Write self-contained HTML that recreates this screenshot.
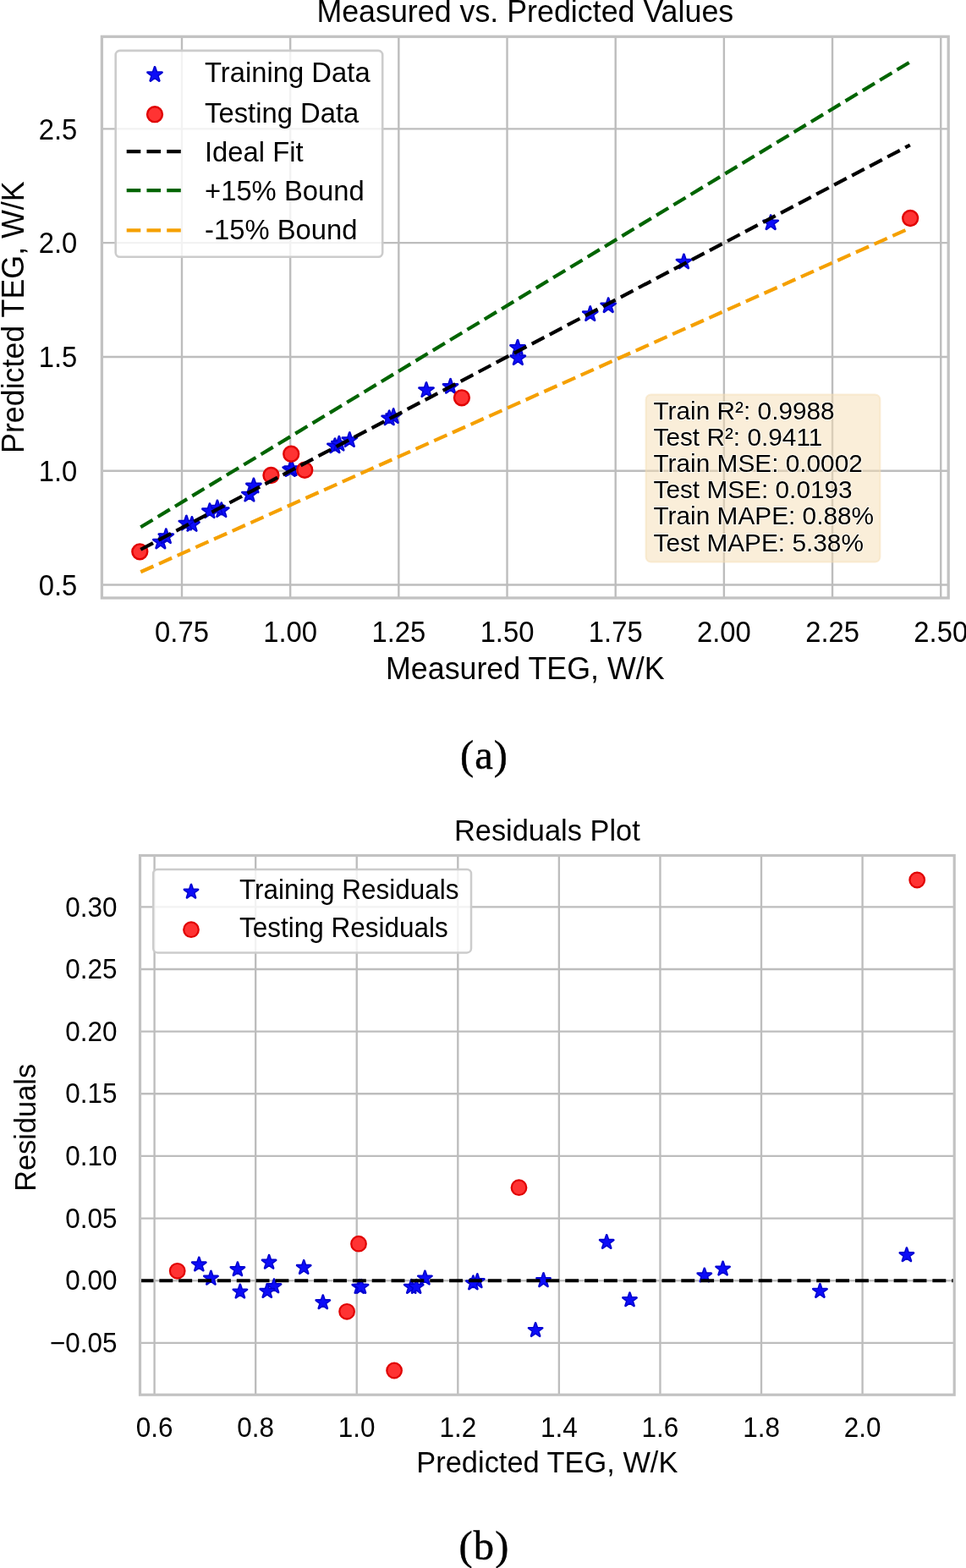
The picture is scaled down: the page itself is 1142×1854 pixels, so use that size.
<!DOCTYPE html>
<html><head><meta charset="utf-8"><title>Measured vs. Predicted Values</title>
<style>html,body{margin:0;padding:0;background:#fff;} body{width:1142px;height:1854px;position:relative;overflow:hidden;}</style>
</head><body>
<svg width="1142" height="1854" viewBox="0 0 1142 1854" style="position:absolute;left:0;top:0">
<rect x="0" y="0" width="1142" height="1854" fill="#ffffff"/>
<g id="plotA">
<line x1="215.00" y1="43.3" x2="215.00" y2="707.0" stroke="#bdbdbd" stroke-width="2.4"/>
<line x1="343.18" y1="43.3" x2="343.18" y2="707.0" stroke="#bdbdbd" stroke-width="2.4"/>
<line x1="471.35" y1="43.3" x2="471.35" y2="707.0" stroke="#bdbdbd" stroke-width="2.4"/>
<line x1="599.53" y1="43.3" x2="599.53" y2="707.0" stroke="#bdbdbd" stroke-width="2.4"/>
<line x1="727.70" y1="43.3" x2="727.70" y2="707.0" stroke="#bdbdbd" stroke-width="2.4"/>
<line x1="855.88" y1="43.3" x2="855.88" y2="707.0" stroke="#bdbdbd" stroke-width="2.4"/>
<line x1="984.05" y1="43.3" x2="984.05" y2="707.0" stroke="#bdbdbd" stroke-width="2.4"/>
<line x1="1112.23" y1="43.3" x2="1112.23" y2="707.0" stroke="#bdbdbd" stroke-width="2.4"/>
<line x1="120.4" y1="691.55" x2="1121.2" y2="691.55" stroke="#bdbdbd" stroke-width="2.4"/>
<line x1="120.4" y1="556.75" x2="1121.2" y2="556.75" stroke="#bdbdbd" stroke-width="2.4"/>
<line x1="120.4" y1="421.95" x2="1121.2" y2="421.95" stroke="#bdbdbd" stroke-width="2.4"/>
<line x1="120.4" y1="287.15" x2="1121.2" y2="287.15" stroke="#bdbdbd" stroke-width="2.4"/>
<line x1="120.4" y1="152.35" x2="1121.2" y2="152.35" stroke="#bdbdbd" stroke-width="2.4"/>
<path d="M189.87,631.92 L187.87,638.07 L181.40,638.07 L186.63,641.88 L184.64,648.03 L189.87,644.22 L195.10,648.03 L193.10,641.88 L198.33,638.07 L191.87,638.07 Z" fill="#0000cc" stroke="#0000cc" stroke-width="2.8" stroke-linejoin="round"/><path d="M189.87,631.92 L187.87,638.07 L181.40,638.07 L186.63,641.88 L184.64,648.03 L189.87,644.22 L195.10,648.03 L193.10,641.88 L198.33,638.07 L191.87,638.07 Z" fill="#0c0cf8"/>
<path d="M196.32,625.57 L194.32,631.72 L187.86,631.72 L193.09,635.52 L191.09,641.67 L196.32,637.87 L201.55,641.67 L199.55,635.52 L204.79,631.72 L198.32,631.72 Z" fill="#0000cc" stroke="#0000cc" stroke-width="2.8" stroke-linejoin="round"/><path d="M196.32,625.57 L194.32,631.72 L187.86,631.72 L193.09,635.52 L191.09,641.67 L196.32,637.87 L201.55,641.67 L199.55,635.52 L204.79,631.72 L198.32,631.72 Z" fill="#0c0cf8"/>
<path d="M226.95,611.36 L224.96,617.51 L218.49,617.51 L223.72,621.31 L221.72,627.46 L226.95,623.66 L232.19,627.46 L230.19,621.31 L235.42,617.51 L228.95,617.51 Z" fill="#0000cc" stroke="#0000cc" stroke-width="2.8" stroke-linejoin="round"/><path d="M226.95,611.36 L224.96,617.51 L218.49,617.51 L223.72,621.31 L221.72,627.46 L226.95,623.66 L232.19,627.46 L230.19,621.31 L235.42,617.51 L228.95,617.51 Z" fill="#0c0cf8"/>
<path d="M220.37,610.01 L218.37,616.16 L211.91,616.16 L217.14,619.96 L215.14,626.11 L220.37,622.31 L225.60,626.11 L223.61,619.96 L228.84,616.16 L222.37,616.16 Z" fill="#0000cc" stroke="#0000cc" stroke-width="2.8" stroke-linejoin="round"/><path d="M220.37,610.01 L218.37,616.16 L211.91,616.16 L217.14,619.96 L215.14,626.11 L220.37,622.31 L225.60,626.11 L223.61,619.96 L228.84,616.16 L222.37,616.16 Z" fill="#0c0cf8"/>
<path d="M261.81,594.59 L259.82,600.74 L253.35,600.74 L258.58,604.54 L256.58,610.69 L261.81,606.89 L267.05,610.69 L265.05,604.54 L270.28,600.74 L263.81,600.74 Z" fill="#0000cc" stroke="#0000cc" stroke-width="2.8" stroke-linejoin="round"/><path d="M261.81,594.59 L259.82,600.74 L253.35,600.74 L258.58,604.54 L256.58,610.69 L261.81,606.89 L267.05,610.69 L265.05,604.54 L270.28,600.74 L263.81,600.74 Z" fill="#0c0cf8"/>
<path d="M256.95,591.93 L254.96,598.08 L248.49,598.08 L253.72,601.88 L251.72,608.03 L256.95,604.23 L262.19,608.03 L260.19,601.88 L265.42,598.08 L258.95,598.08 Z" fill="#0000cc" stroke="#0000cc" stroke-width="2.8" stroke-linejoin="round"/><path d="M256.95,591.93 L254.96,598.08 L248.49,598.08 L253.72,601.88 L251.72,608.03 L256.95,604.23 L262.19,608.03 L260.19,601.88 L265.42,598.08 L258.95,598.08 Z" fill="#0c0cf8"/>
<path d="M247.94,595.62 L245.94,601.77 L239.47,601.77 L244.70,605.57 L242.71,611.72 L247.94,607.92 L253.17,611.72 L251.17,605.57 L256.40,601.77 L249.94,601.77 Z" fill="#0000cc" stroke="#0000cc" stroke-width="2.8" stroke-linejoin="round"/><path d="M247.94,595.62 L245.94,601.77 L239.47,601.77 L244.70,605.57 L242.71,611.72 L247.94,607.92 L253.17,611.72 L251.17,605.57 L256.40,601.77 L249.94,601.77 Z" fill="#0c0cf8"/>
<path d="M294.90,576.05 L292.90,582.20 L286.44,582.20 L291.67,586.00 L289.67,592.15 L294.90,588.35 L300.13,592.15 L298.14,586.00 L303.37,582.20 L296.90,582.20 Z" fill="#0000cc" stroke="#0000cc" stroke-width="2.8" stroke-linejoin="round"/><path d="M294.90,576.05 L292.90,582.20 L286.44,582.20 L291.67,586.00 L289.67,592.15 L294.90,588.35 L300.13,592.15 L298.14,586.00 L303.37,582.20 L296.90,582.20 Z" fill="#0c0cf8"/>
<path d="M299.91,565.86 L297.91,572.01 L291.44,572.01 L296.68,575.81 L294.68,581.96 L299.91,578.16 L305.14,581.96 L303.14,575.81 L308.37,572.01 L301.91,572.01 Z" fill="#0000cc" stroke="#0000cc" stroke-width="2.8" stroke-linejoin="round"/><path d="M299.91,565.86 L297.91,572.01 L291.44,572.01 L296.68,575.81 L294.68,581.96 L299.91,578.16 L305.14,581.96 L303.14,575.81 L308.37,572.01 L301.91,572.01 Z" fill="#0c0cf8"/>
<path d="M343.19,546.47 L341.19,552.62 L334.72,552.62 L339.96,556.42 L337.96,562.57 L343.19,558.77 L348.42,562.57 L346.42,556.42 L351.65,552.62 L345.19,552.62 Z" fill="#0000cc" stroke="#0000cc" stroke-width="2.8" stroke-linejoin="round"/><path d="M343.19,546.47 L341.19,552.62 L334.72,552.62 L339.96,556.42 L337.96,562.57 L343.19,558.77 L348.42,562.57 L346.42,556.42 L351.65,552.62 L345.19,552.62 Z" fill="#0c0cf8"/>
<path d="M345.08,545.48 L343.08,551.63 L336.61,551.63 L341.84,555.43 L339.84,561.58 L345.08,557.78 L350.31,561.58 L348.31,555.43 L353.54,551.63 L347.07,551.63 Z" fill="#0000cc" stroke="#0000cc" stroke-width="2.8" stroke-linejoin="round"/><path d="M345.08,545.48 L343.08,551.63 L336.61,551.63 L341.84,555.43 L339.84,561.58 L345.08,557.78 L350.31,561.58 L348.31,555.43 L353.54,551.63 L347.07,551.63 Z" fill="#0c0cf8"/>
<path d="M395.93,518.74 L393.93,524.89 L387.47,524.89 L392.70,528.69 L390.70,534.84 L395.93,531.04 L401.16,534.84 L399.16,528.69 L404.39,524.89 L397.93,524.89 Z" fill="#0000cc" stroke="#0000cc" stroke-width="2.8" stroke-linejoin="round"/><path d="M395.93,518.74 L393.93,524.89 L387.47,524.89 L392.70,528.69 L390.70,534.84 L395.93,531.04 L401.16,534.84 L399.16,528.69 L404.39,524.89 L397.93,524.89 Z" fill="#0c0cf8"/>
<path d="M400.90,516.12 L398.91,522.27 L392.44,522.27 L397.67,526.07 L395.67,532.22 L400.90,528.42 L406.13,532.22 L404.14,526.07 L409.37,522.27 L402.90,522.27 Z" fill="#0000cc" stroke="#0000cc" stroke-width="2.8" stroke-linejoin="round"/><path d="M400.90,516.12 L398.91,522.27 L392.44,522.27 L397.67,526.07 L395.67,532.22 L400.90,528.42 L406.13,532.22 L404.14,526.07 L409.37,522.27 L402.90,522.27 Z" fill="#0c0cf8"/>
<path d="M413.32,511.48 L411.32,517.63 L404.86,517.63 L410.09,521.43 L408.09,527.58 L413.32,523.78 L418.55,527.58 L416.55,521.43 L421.79,517.63 L415.32,517.63 Z" fill="#0000cc" stroke="#0000cc" stroke-width="2.8" stroke-linejoin="round"/><path d="M413.32,511.48 L411.32,517.63 L404.86,517.63 L410.09,521.43 L408.09,527.58 L413.32,523.78 L418.55,527.58 L416.55,521.43 L421.79,517.63 L415.32,517.63 Z" fill="#0c0cf8"/>
<path d="M465.15,483.56 L463.15,489.71 L456.69,489.71 L461.92,493.51 L459.92,499.66 L465.15,495.86 L470.38,499.66 L468.39,493.51 L473.62,489.71 L467.15,489.71 Z" fill="#0000cc" stroke="#0000cc" stroke-width="2.8" stroke-linejoin="round"/><path d="M465.15,483.56 L463.15,489.71 L456.69,489.71 L461.92,493.51 L459.92,499.66 L465.15,495.86 L470.38,499.66 L468.39,493.51 L473.62,489.71 L467.15,489.71 Z" fill="#0c0cf8"/>
<path d="M460.18,485.77 L458.19,491.92 L451.72,491.92 L456.95,495.72 L454.95,501.87 L460.18,498.07 L465.42,501.87 L463.42,495.72 L468.65,491.92 L462.18,491.92 Z" fill="#0000cc" stroke="#0000cc" stroke-width="2.8" stroke-linejoin="round"/><path d="M460.18,485.77 L458.19,491.92 L451.72,491.92 L456.95,495.72 L454.95,501.87 L460.18,498.07 L465.42,501.87 L463.42,495.72 L468.65,491.92 L462.18,491.92 Z" fill="#0c0cf8"/>
<path d="M532.56,448.30 L530.56,454.45 L524.10,454.45 L529.33,458.25 L527.33,464.40 L532.56,460.60 L537.79,464.40 L535.80,458.25 L541.03,454.45 L534.56,454.45 Z" fill="#0000cc" stroke="#0000cc" stroke-width="2.8" stroke-linejoin="round"/><path d="M532.56,448.30 L530.56,454.45 L524.10,454.45 L529.33,458.25 L527.33,464.40 L532.56,460.60 L537.79,464.40 L535.80,458.25 L541.03,454.45 L534.56,454.45 Z" fill="#0c0cf8"/>
<path d="M504.00,452.54 L502.00,458.69 L495.54,458.69 L500.77,462.49 L498.77,468.64 L504.00,464.84 L509.23,468.64 L507.23,462.49 L512.46,458.69 L506.00,458.69 Z" fill="#0000cc" stroke="#0000cc" stroke-width="2.8" stroke-linejoin="round"/><path d="M504.00,452.54 L502.00,458.69 L495.54,458.69 L500.77,462.49 L498.77,468.64 L504.00,464.84 L509.23,468.64 L507.23,462.49 L512.46,458.69 L506.00,458.69 Z" fill="#0c0cf8"/>
<path d="M612.36,414.61 L610.36,420.76 L603.89,420.76 L609.12,424.56 L607.12,430.71 L612.36,426.91 L617.59,430.71 L615.59,424.56 L620.82,420.76 L614.35,420.76 Z" fill="#0000cc" stroke="#0000cc" stroke-width="2.8" stroke-linejoin="round"/><path d="M612.36,414.61 L610.36,420.76 L603.89,420.76 L609.12,424.56 L607.12,430.71 L612.36,426.91 L617.59,430.71 L615.59,424.56 L620.82,420.76 L614.35,420.76 Z" fill="#0c0cf8"/>
<path d="M611.99,402.30 L610.00,408.45 L603.53,408.45 L608.76,412.25 L606.76,418.40 L611.99,414.60 L617.23,418.40 L615.23,412.25 L620.46,408.45 L613.99,408.45 Z" fill="#0000cc" stroke="#0000cc" stroke-width="2.8" stroke-linejoin="round"/><path d="M611.99,402.30 L610.00,408.45 L603.53,408.45 L608.76,412.25 L606.76,418.40 L611.99,414.60 L617.23,418.40 L615.23,412.25 L620.46,408.45 L613.99,408.45 Z" fill="#0c0cf8"/>
<path d="M697.74,362.48 L695.74,368.63 L689.28,368.63 L694.51,372.43 L692.51,378.58 L697.74,374.78 L702.97,378.58 L700.98,372.43 L706.21,368.63 L699.74,368.63 Z" fill="#0000cc" stroke="#0000cc" stroke-width="2.8" stroke-linejoin="round"/><path d="M697.74,362.48 L695.74,368.63 L689.28,368.63 L694.51,372.43 L692.51,378.58 L697.74,374.78 L702.97,378.58 L700.98,372.43 L706.21,368.63 L699.74,368.63 Z" fill="#0c0cf8"/>
<path d="M719.19,352.65 L717.19,358.80 L710.72,358.80 L715.95,362.60 L713.96,368.75 L719.19,364.95 L724.42,368.75 L722.42,362.60 L727.65,358.80 L721.19,358.80 Z" fill="#0000cc" stroke="#0000cc" stroke-width="2.8" stroke-linejoin="round"/><path d="M719.19,352.65 L717.19,358.80 L710.72,358.80 L715.95,362.60 L713.96,368.75 L719.19,364.95 L724.42,368.75 L722.42,362.60 L727.65,358.80 L721.19,358.80 Z" fill="#0c0cf8"/>
<path d="M808.48,300.88 L806.48,307.03 L800.02,307.03 L805.25,310.83 L803.25,316.98 L808.48,313.18 L813.71,316.98 L811.72,310.83 L816.95,307.03 L810.48,307.03 Z" fill="#0000cc" stroke="#0000cc" stroke-width="2.8" stroke-linejoin="round"/><path d="M808.48,300.88 L806.48,307.03 L800.02,307.03 L805.25,310.83 L803.25,316.98 L808.48,313.18 L813.71,316.98 L811.72,310.83 L816.95,307.03 L810.48,307.03 Z" fill="#0c0cf8"/>
<path d="M911.21,254.66 L909.21,260.81 L902.75,260.81 L907.98,264.61 L905.98,270.76 L911.21,266.96 L916.44,270.76 L914.44,264.61 L919.68,260.81 L913.21,260.81 Z" fill="#0000cc" stroke="#0000cc" stroke-width="2.8" stroke-linejoin="round"/><path d="M911.21,254.66 L909.21,260.81 L902.75,260.81 L907.98,264.61 L905.98,270.76 L911.21,266.96 L916.44,270.76 L914.44,264.61 L919.68,260.81 L913.21,260.81 Z" fill="#0c0cf8"/>
<circle cx="165.30" cy="652.37" r="8.95" fill="#ff3333" stroke="#e00000" stroke-width="2.4"/>
<circle cx="320.45" cy="562.00" r="8.95" fill="#ff3333" stroke="#e00000" stroke-width="2.4"/>
<circle cx="360.25" cy="555.73" r="8.95" fill="#ff3333" stroke="#e00000" stroke-width="2.4"/>
<circle cx="344.22" cy="536.75" r="8.95" fill="#ff3333" stroke="#e00000" stroke-width="2.4"/>
<circle cx="545.91" cy="470.28" r="8.95" fill="#ff3333" stroke="#e00000" stroke-width="2.4"/>
<circle cx="1076.16" cy="258.01" r="8.95" fill="#ff3333" stroke="#e00000" stroke-width="2.4"/>
<line x1="166.29" y1="649.76" x2="1075.82" y2="171.49" stroke="#000000" stroke-width="4.2" stroke-dasharray="16.6,7.15"/>
<line x1="166.29" y1="623.27" x2="1075.82" y2="73.26" stroke="#006400" stroke-width="4.2" stroke-dasharray="16.6,7.15"/>
<line x1="166.29" y1="676.25" x2="1075.82" y2="269.72" stroke="#f5a000" stroke-width="4.2" stroke-dasharray="16.6,7.15"/>
<rect x="120.4" y="43.3" width="1000.80" height="663.70" fill="none" stroke="#c2c2c2" stroke-width="3.3"/>
<text x="0" y="0" transform="translate(215.00,758.50) scale(1,1.045)" font-size="32.8" text-anchor="middle" font-family="'Liberation Sans', Arial, sans-serif" stroke="none" stroke-width="0" >0.75</text>
<text x="0" y="0" transform="translate(343.18,758.50) scale(1,1.045)" font-size="32.8" text-anchor="middle" font-family="'Liberation Sans', Arial, sans-serif" stroke="none" stroke-width="0" >1.00</text>
<text x="0" y="0" transform="translate(471.35,758.50) scale(1,1.045)" font-size="32.8" text-anchor="middle" font-family="'Liberation Sans', Arial, sans-serif" stroke="none" stroke-width="0" >1.25</text>
<text x="0" y="0" transform="translate(599.53,758.50) scale(1,1.045)" font-size="32.8" text-anchor="middle" font-family="'Liberation Sans', Arial, sans-serif" stroke="none" stroke-width="0" >1.50</text>
<text x="0" y="0" transform="translate(727.70,758.50) scale(1,1.045)" font-size="32.8" text-anchor="middle" font-family="'Liberation Sans', Arial, sans-serif" stroke="none" stroke-width="0" >1.75</text>
<text x="0" y="0" transform="translate(855.88,758.50) scale(1,1.045)" font-size="32.8" text-anchor="middle" font-family="'Liberation Sans', Arial, sans-serif" stroke="none" stroke-width="0" >2.00</text>
<text x="0" y="0" transform="translate(984.05,758.50) scale(1,1.045)" font-size="32.8" text-anchor="middle" font-family="'Liberation Sans', Arial, sans-serif" stroke="none" stroke-width="0" >2.25</text>
<text x="0" y="0" transform="translate(1112.23,758.50) scale(1,1.045)" font-size="32.8" text-anchor="middle" font-family="'Liberation Sans', Arial, sans-serif" stroke="none" stroke-width="0" >2.50</text>
<text x="0" y="0" transform="translate(91.30,703.85) scale(1,1.045)" font-size="32.8" text-anchor="end" font-family="'Liberation Sans', Arial, sans-serif" stroke="none" stroke-width="0" >0.5</text>
<text x="0" y="0" transform="translate(91.30,569.05) scale(1,1.045)" font-size="32.8" text-anchor="end" font-family="'Liberation Sans', Arial, sans-serif" stroke="none" stroke-width="0" >1.0</text>
<text x="0" y="0" transform="translate(91.30,434.25) scale(1,1.045)" font-size="32.8" text-anchor="end" font-family="'Liberation Sans', Arial, sans-serif" stroke="none" stroke-width="0" >1.5</text>
<text x="0" y="0" transform="translate(91.30,299.45) scale(1,1.045)" font-size="32.8" text-anchor="end" font-family="'Liberation Sans', Arial, sans-serif" stroke="none" stroke-width="0" >2.0</text>
<text x="0" y="0" transform="translate(91.30,164.65) scale(1,1.045)" font-size="32.8" text-anchor="end" font-family="'Liberation Sans', Arial, sans-serif" stroke="none" stroke-width="0" >2.5</text>
<text x="0" y="0" transform="translate(620.80,802.60) scale(1,1.025)" font-size="35.8" text-anchor="middle" font-family="'Liberation Sans', Arial, sans-serif" stroke="none" stroke-width="0" >Measured TEG, W/K</text>
<text x="0" y="0" transform="translate(28.20,375.15) rotate(-90) scale(1,1.025)" font-size="35.8" text-anchor="middle" font-family="'Liberation Sans', Arial, sans-serif" stroke="none" stroke-width="0" >Predicted TEG, W/K</text>
<text x="0" y="0" transform="translate(620.80,25.50) scale(1,1.025)" font-size="35.8" text-anchor="middle" font-family="'Liberation Sans', Arial, sans-serif" stroke="none" stroke-width="0" >Measured vs. Predicted Values</text>
<rect x="136.7" y="59.9" width="315.5" height="243.8" rx="5" ry="5" fill="#ffffff" fill-opacity="0.8" stroke="#cccccc" stroke-width="2.6"/>
<path d="M183.00,79.40 L181.00,85.55 L174.54,85.55 L179.77,89.35 L177.77,95.50 L183.00,91.70 L188.23,95.50 L186.23,89.35 L191.46,85.55 L185.00,85.55 Z" fill="#0000cc" stroke="#0000cc" stroke-width="2.8" stroke-linejoin="round"/><path d="M183.00,79.40 L181.00,85.55 L174.54,85.55 L179.77,89.35 L177.77,95.50 L183.00,91.70 L188.23,95.50 L186.23,89.35 L191.46,85.55 L185.00,85.55 Z" fill="#0c0cf8"/>
<circle cx="183.00" cy="135.20" r="8.95" fill="#ff3333" stroke="#e00000" stroke-width="2.4"/>
<line x1="149.7" y1="179.2" x2="213.8" y2="179.2" stroke="#000000" stroke-width="4.2" stroke-dasharray="16.6,7.15"/>
<line x1="149.7" y1="225.2" x2="213.8" y2="225.2" stroke="#006400" stroke-width="4.2" stroke-dasharray="16.6,7.15"/>
<line x1="149.7" y1="272.3" x2="213.8" y2="272.3" stroke="#f5a000" stroke-width="4.2" stroke-dasharray="16.6,7.15"/>
<text x="0" y="0" transform="translate(242.00,97.00) scale(1,1.025)" font-size="32.8" text-anchor="start" font-family="'Liberation Sans', Arial, sans-serif" stroke="none" stroke-width="0" >Training Data</text>
<text x="0" y="0" transform="translate(242.00,144.70) scale(1,1.025)" font-size="32.8" text-anchor="start" font-family="'Liberation Sans', Arial, sans-serif" stroke="none" stroke-width="0" >Testing Data</text>
<text x="0" y="0" transform="translate(242.00,190.90) scale(1,1.025)" font-size="32.8" text-anchor="start" font-family="'Liberation Sans', Arial, sans-serif" stroke="none" stroke-width="0" >Ideal Fit</text>
<text x="0" y="0" transform="translate(242.00,237.20) scale(1,1.025)" font-size="32.8" text-anchor="start" font-family="'Liberation Sans', Arial, sans-serif" stroke="none" stroke-width="0" >+15% Bound</text>
<text x="0" y="0" transform="translate(242.00,283.40) scale(1,1.025)" font-size="32.8" text-anchor="start" font-family="'Liberation Sans', Arial, sans-serif" stroke="none" stroke-width="0" >-15% Bound</text>
<rect x="763.6" y="466.4" width="276.8" height="198.2" rx="6" ry="6" fill="#f5deb3" fill-opacity="0.5" stroke="#f5deb3" stroke-opacity="0.5" stroke-width="2"/>
<text x="0" y="0" transform="translate(772.50,495.70) scale(1,1.0)" font-size="29.8" text-anchor="start" font-family="'Liberation Sans', Arial, sans-serif" stroke="#fffdf6" stroke-width="2.2" style="paint-order:stroke" stroke-opacity="0.85" stroke-linejoin="round">Train R²: 0.9988</text>
<text x="0" y="0" transform="translate(772.50,526.80) scale(1,1.0)" font-size="29.8" text-anchor="start" font-family="'Liberation Sans', Arial, sans-serif" stroke="#fffdf6" stroke-width="2.2" style="paint-order:stroke" stroke-opacity="0.85" stroke-linejoin="round">Test R²: 0.9411</text>
<text x="0" y="0" transform="translate(772.50,557.90) scale(1,1.0)" font-size="29.8" text-anchor="start" font-family="'Liberation Sans', Arial, sans-serif" stroke="#fffdf6" stroke-width="2.2" style="paint-order:stroke" stroke-opacity="0.85" stroke-linejoin="round">Train MSE: 0.0002</text>
<text x="0" y="0" transform="translate(772.50,589.10) scale(1,1.0)" font-size="29.8" text-anchor="start" font-family="'Liberation Sans', Arial, sans-serif" stroke="#fffdf6" stroke-width="2.2" style="paint-order:stroke" stroke-opacity="0.85" stroke-linejoin="round">Test MSE: 0.0193</text>
<text x="0" y="0" transform="translate(772.50,620.30) scale(1,1.0)" font-size="29.8" text-anchor="start" font-family="'Liberation Sans', Arial, sans-serif" stroke="#fffdf6" stroke-width="2.2" style="paint-order:stroke" stroke-opacity="0.85" stroke-linejoin="round">Train MAPE: 0.88%</text>
<text x="0" y="0" transform="translate(772.50,651.50) scale(1,1.0)" font-size="29.8" text-anchor="start" font-family="'Liberation Sans', Arial, sans-serif" stroke="#fffdf6" stroke-width="2.2" style="paint-order:stroke" stroke-opacity="0.85" stroke-linejoin="round">Test MAPE: 5.38%</text>
</g>
<text x="0" y="0" transform="translate(572.50,908.80) scale(1,1.0)" font-size="48.5" text-anchor="middle" font-family="'Liberation Serif', 'Times New Roman', serif" stroke="#000000" stroke-width="0.45" letter-spacing="1.1">(a)</text>
<g id="plotB">
<line x1="182.60" y1="1011.5" x2="182.60" y2="1649.2" stroke="#bdbdbd" stroke-width="2.35"/>
<line x1="302.17" y1="1011.5" x2="302.17" y2="1649.2" stroke="#bdbdbd" stroke-width="2.35"/>
<line x1="421.74" y1="1011.5" x2="421.74" y2="1649.2" stroke="#bdbdbd" stroke-width="2.35"/>
<line x1="541.31" y1="1011.5" x2="541.31" y2="1649.2" stroke="#bdbdbd" stroke-width="2.35"/>
<line x1="660.88" y1="1011.5" x2="660.88" y2="1649.2" stroke="#bdbdbd" stroke-width="2.35"/>
<line x1="780.45" y1="1011.5" x2="780.45" y2="1649.2" stroke="#bdbdbd" stroke-width="2.35"/>
<line x1="900.02" y1="1011.5" x2="900.02" y2="1649.2" stroke="#bdbdbd" stroke-width="2.35"/>
<line x1="1019.59" y1="1011.5" x2="1019.59" y2="1649.2" stroke="#bdbdbd" stroke-width="2.35"/>
<line x1="165.5" y1="1587.85" x2="1128.2" y2="1587.85" stroke="#bdbdbd" stroke-width="2.35"/>
<line x1="165.5" y1="1514.20" x2="1128.2" y2="1514.20" stroke="#bdbdbd" stroke-width="2.35"/>
<line x1="165.5" y1="1440.55" x2="1128.2" y2="1440.55" stroke="#bdbdbd" stroke-width="2.35"/>
<line x1="165.5" y1="1366.90" x2="1128.2" y2="1366.90" stroke="#bdbdbd" stroke-width="2.35"/>
<line x1="165.5" y1="1293.25" x2="1128.2" y2="1293.25" stroke="#bdbdbd" stroke-width="2.35"/>
<line x1="165.5" y1="1219.60" x2="1128.2" y2="1219.60" stroke="#bdbdbd" stroke-width="2.35"/>
<line x1="165.5" y1="1145.95" x2="1128.2" y2="1145.95" stroke="#bdbdbd" stroke-width="2.35"/>
<line x1="165.5" y1="1072.30" x2="1128.2" y2="1072.30" stroke="#bdbdbd" stroke-width="2.35"/>
<path d="M235.30,1486.80 L233.39,1492.67 L227.22,1492.67 L232.21,1496.30 L230.30,1502.18 L235.30,1498.55 L240.30,1502.18 L238.39,1496.30 L243.38,1492.67 L237.21,1492.67 Z" fill="#0000cc" stroke="#0000cc" stroke-width="2.7" stroke-linejoin="round"/><path d="M235.30,1486.80 L233.39,1492.67 L227.22,1492.67 L232.21,1496.30 L230.30,1502.18 L235.30,1498.55 L240.30,1502.18 L238.39,1496.30 L243.38,1492.67 L237.21,1492.67 Z" fill="#0c0cf8"/>
<path d="M249.40,1503.00 L247.49,1508.87 L241.32,1508.87 L246.31,1512.50 L244.40,1518.38 L249.40,1514.75 L254.40,1518.38 L252.49,1512.50 L257.48,1508.87 L251.31,1508.87 Z" fill="#0000cc" stroke="#0000cc" stroke-width="2.7" stroke-linejoin="round"/><path d="M249.40,1503.00 L247.49,1508.87 L241.32,1508.87 L246.31,1512.50 L244.40,1518.38 L249.40,1514.75 L254.40,1518.38 L252.49,1512.50 L257.48,1508.87 L251.31,1508.87 Z" fill="#0c0cf8"/>
<path d="M280.90,1492.60 L278.99,1498.47 L272.82,1498.47 L277.81,1502.10 L275.90,1507.98 L280.90,1504.35 L285.90,1507.98 L283.99,1502.10 L288.98,1498.47 L282.81,1498.47 Z" fill="#0000cc" stroke="#0000cc" stroke-width="2.7" stroke-linejoin="round"/><path d="M280.90,1492.60 L278.99,1498.47 L272.82,1498.47 L277.81,1502.10 L275.90,1507.98 L280.90,1504.35 L285.90,1507.98 L283.99,1502.10 L288.98,1498.47 L282.81,1498.47 Z" fill="#0c0cf8"/>
<path d="M283.90,1518.90 L281.99,1524.77 L275.82,1524.77 L280.81,1528.40 L278.90,1534.28 L283.90,1530.65 L288.90,1534.28 L286.99,1528.40 L291.98,1524.77 L285.81,1524.77 Z" fill="#0000cc" stroke="#0000cc" stroke-width="2.7" stroke-linejoin="round"/><path d="M283.90,1518.90 L281.99,1524.77 L275.82,1524.77 L280.81,1528.40 L278.90,1534.28 L283.90,1530.65 L288.90,1534.28 L286.99,1528.40 L291.98,1524.77 L285.81,1524.77 Z" fill="#0c0cf8"/>
<path d="M318.10,1484.10 L316.19,1489.97 L310.02,1489.97 L315.01,1493.60 L313.10,1499.48 L318.10,1495.85 L323.10,1499.48 L321.19,1493.60 L326.18,1489.97 L320.01,1489.97 Z" fill="#0000cc" stroke="#0000cc" stroke-width="2.7" stroke-linejoin="round"/><path d="M318.10,1484.10 L316.19,1489.97 L310.02,1489.97 L315.01,1493.60 L313.10,1499.48 L318.10,1495.85 L323.10,1499.48 L321.19,1493.60 L326.18,1489.97 L320.01,1489.97 Z" fill="#0c0cf8"/>
<path d="M324.00,1512.60 L322.09,1518.47 L315.92,1518.47 L320.91,1522.10 L319.00,1527.98 L324.00,1524.35 L329.00,1527.98 L327.09,1522.10 L332.08,1518.47 L325.91,1518.47 Z" fill="#0000cc" stroke="#0000cc" stroke-width="2.7" stroke-linejoin="round"/><path d="M324.00,1512.60 L322.09,1518.47 L315.92,1518.47 L320.91,1522.10 L319.00,1527.98 L324.00,1524.35 L329.00,1527.98 L327.09,1522.10 L332.08,1518.47 L325.91,1518.47 Z" fill="#0c0cf8"/>
<path d="M315.80,1518.30 L313.89,1524.17 L307.72,1524.17 L312.71,1527.80 L310.80,1533.68 L315.80,1530.05 L320.80,1533.68 L318.89,1527.80 L323.88,1524.17 L317.71,1524.17 Z" fill="#0000cc" stroke="#0000cc" stroke-width="2.7" stroke-linejoin="round"/><path d="M315.80,1518.30 L313.89,1524.17 L307.72,1524.17 L312.71,1527.80 L310.80,1533.68 L315.80,1530.05 L320.80,1533.68 L318.89,1527.80 L323.88,1524.17 L317.71,1524.17 Z" fill="#0c0cf8"/>
<path d="M359.20,1490.30 L357.29,1496.17 L351.12,1496.17 L356.11,1499.80 L354.20,1505.68 L359.20,1502.05 L364.20,1505.68 L362.29,1499.80 L367.28,1496.17 L361.11,1496.17 Z" fill="#0000cc" stroke="#0000cc" stroke-width="2.7" stroke-linejoin="round"/><path d="M359.20,1490.30 L357.29,1496.17 L351.12,1496.17 L356.11,1499.80 L354.20,1505.68 L359.20,1502.05 L364.20,1505.68 L362.29,1499.80 L367.28,1496.17 L361.11,1496.17 Z" fill="#0c0cf8"/>
<path d="M381.80,1531.60 L379.89,1537.47 L373.72,1537.47 L378.71,1541.10 L376.80,1546.98 L381.80,1543.35 L386.80,1546.98 L384.89,1541.10 L389.88,1537.47 L383.71,1537.47 Z" fill="#0000cc" stroke="#0000cc" stroke-width="2.7" stroke-linejoin="round"/><path d="M381.80,1531.60 L379.89,1537.47 L373.72,1537.47 L378.71,1541.10 L376.80,1546.98 L381.80,1543.35 L386.80,1546.98 L384.89,1541.10 L389.88,1537.47 L383.71,1537.47 Z" fill="#0c0cf8"/>
<path d="M424.80,1513.20 L422.89,1519.07 L416.72,1519.07 L421.71,1522.70 L419.80,1528.58 L424.80,1524.95 L429.80,1528.58 L427.89,1522.70 L432.88,1519.07 L426.71,1519.07 Z" fill="#0000cc" stroke="#0000cc" stroke-width="2.7" stroke-linejoin="round"/><path d="M424.80,1513.20 L422.89,1519.07 L416.72,1519.07 L421.71,1522.70 L419.80,1528.58 L424.80,1524.95 L429.80,1528.58 L427.89,1522.70 L432.88,1519.07 L426.71,1519.07 Z" fill="#0c0cf8"/>
<path d="M427.00,1513.20 L425.09,1519.07 L418.92,1519.07 L423.91,1522.70 L422.00,1528.58 L427.00,1524.95 L432.00,1528.58 L430.09,1522.70 L435.08,1519.07 L428.91,1519.07 Z" fill="#0000cc" stroke="#0000cc" stroke-width="2.7" stroke-linejoin="round"/><path d="M427.00,1513.20 L425.09,1519.07 L418.92,1519.07 L423.91,1522.70 L422.00,1528.58 L427.00,1524.95 L432.00,1528.58 L430.09,1522.70 L435.08,1519.07 L428.91,1519.07 Z" fill="#0c0cf8"/>
<path d="M486.30,1513.20 L484.39,1519.07 L478.22,1519.07 L483.21,1522.70 L481.30,1528.58 L486.30,1524.95 L491.30,1528.58 L489.39,1522.70 L494.38,1519.07 L488.21,1519.07 Z" fill="#0000cc" stroke="#0000cc" stroke-width="2.7" stroke-linejoin="round"/><path d="M486.30,1513.20 L484.39,1519.07 L478.22,1519.07 L483.21,1522.70 L481.30,1528.58 L486.30,1524.95 L491.30,1528.58 L489.39,1522.70 L494.38,1519.07 L488.21,1519.07 Z" fill="#0c0cf8"/>
<path d="M492.10,1513.20 L490.19,1519.07 L484.02,1519.07 L489.01,1522.70 L487.10,1528.58 L492.10,1524.95 L497.10,1528.58 L495.19,1522.70 L500.18,1519.07 L494.01,1519.07 Z" fill="#0000cc" stroke="#0000cc" stroke-width="2.7" stroke-linejoin="round"/><path d="M492.10,1513.20 L490.19,1519.07 L484.02,1519.07 L489.01,1522.70 L487.10,1528.58 L492.10,1524.95 L497.10,1528.58 L495.19,1522.70 L500.18,1519.07 L494.01,1519.07 Z" fill="#0c0cf8"/>
<path d="M502.40,1502.90 L500.49,1508.77 L494.32,1508.77 L499.31,1512.40 L497.40,1518.28 L502.40,1514.65 L507.40,1518.28 L505.49,1512.40 L510.48,1508.77 L504.31,1508.77 Z" fill="#0000cc" stroke="#0000cc" stroke-width="2.7" stroke-linejoin="round"/><path d="M502.40,1502.90 L500.49,1508.77 L494.32,1508.77 L499.31,1512.40 L497.40,1518.28 L502.40,1514.65 L507.40,1518.28 L505.49,1512.40 L510.48,1508.77 L504.31,1508.77 Z" fill="#0c0cf8"/>
<path d="M564.30,1506.50 L562.39,1512.37 L556.22,1512.37 L561.21,1516.00 L559.30,1521.88 L564.30,1518.25 L569.30,1521.88 L567.39,1516.00 L572.38,1512.37 L566.21,1512.37 Z" fill="#0000cc" stroke="#0000cc" stroke-width="2.7" stroke-linejoin="round"/><path d="M564.30,1506.50 L562.39,1512.37 L556.22,1512.37 L561.21,1516.00 L559.30,1521.88 L564.30,1518.25 L569.30,1521.88 L567.39,1516.00 L572.38,1512.37 L566.21,1512.37 Z" fill="#0c0cf8"/>
<path d="M559.40,1508.70 L557.49,1514.57 L551.32,1514.57 L556.31,1518.20 L554.40,1524.08 L559.40,1520.45 L564.40,1524.08 L562.49,1518.20 L567.48,1514.57 L561.31,1514.57 Z" fill="#0000cc" stroke="#0000cc" stroke-width="2.7" stroke-linejoin="round"/><path d="M559.40,1508.70 L557.49,1514.57 L551.32,1514.57 L556.31,1518.20 L554.40,1524.08 L559.40,1520.45 L564.40,1524.08 L562.49,1518.20 L567.48,1514.57 L561.31,1514.57 Z" fill="#0c0cf8"/>
<path d="M642.50,1505.50 L640.59,1511.37 L634.42,1511.37 L639.41,1515.00 L637.50,1520.88 L642.50,1517.25 L647.50,1520.88 L645.59,1515.00 L650.58,1511.37 L644.41,1511.37 Z" fill="#0000cc" stroke="#0000cc" stroke-width="2.7" stroke-linejoin="round"/><path d="M642.50,1505.50 L640.59,1511.37 L634.42,1511.37 L639.41,1515.00 L637.50,1520.88 L642.50,1517.25 L647.50,1520.88 L645.59,1515.00 L650.58,1511.37 L644.41,1511.37 Z" fill="#0c0cf8"/>
<path d="M633.10,1564.40 L631.19,1570.27 L625.02,1570.27 L630.01,1573.90 L628.10,1579.78 L633.10,1576.15 L638.10,1579.78 L636.19,1573.90 L641.18,1570.27 L635.01,1570.27 Z" fill="#0000cc" stroke="#0000cc" stroke-width="2.7" stroke-linejoin="round"/><path d="M633.10,1564.40 L631.19,1570.27 L625.02,1570.27 L630.01,1573.90 L628.10,1579.78 L633.10,1576.15 L638.10,1579.78 L636.19,1573.90 L641.18,1570.27 L635.01,1570.27 Z" fill="#0c0cf8"/>
<path d="M717.20,1460.30 L715.29,1466.17 L709.12,1466.17 L714.11,1469.80 L712.20,1475.68 L717.20,1472.05 L722.20,1475.68 L720.29,1469.80 L725.28,1466.17 L719.11,1466.17 Z" fill="#0000cc" stroke="#0000cc" stroke-width="2.7" stroke-linejoin="round"/><path d="M717.20,1460.30 L715.29,1466.17 L709.12,1466.17 L714.11,1469.80 L712.20,1475.68 L717.20,1472.05 L722.20,1475.68 L720.29,1469.80 L725.28,1466.17 L719.11,1466.17 Z" fill="#0c0cf8"/>
<path d="M744.50,1528.60 L742.59,1534.47 L736.42,1534.47 L741.41,1538.10 L739.50,1543.98 L744.50,1540.35 L749.50,1543.98 L747.59,1538.10 L752.58,1534.47 L746.41,1534.47 Z" fill="#0000cc" stroke="#0000cc" stroke-width="2.7" stroke-linejoin="round"/><path d="M744.50,1528.60 L742.59,1534.47 L736.42,1534.47 L741.41,1538.10 L739.50,1543.98 L744.50,1540.35 L749.50,1543.98 L747.59,1538.10 L752.58,1534.47 L746.41,1534.47 Z" fill="#0c0cf8"/>
<path d="M832.80,1499.80 L830.89,1505.67 L824.72,1505.67 L829.71,1509.30 L827.80,1515.18 L832.80,1511.55 L837.80,1515.18 L835.89,1509.30 L840.88,1505.67 L834.71,1505.67 Z" fill="#0000cc" stroke="#0000cc" stroke-width="2.7" stroke-linejoin="round"/><path d="M832.80,1499.80 L830.89,1505.67 L824.72,1505.67 L829.71,1509.30 L827.80,1515.18 L832.80,1511.55 L837.80,1515.18 L835.89,1509.30 L840.88,1505.67 L834.71,1505.67 Z" fill="#0c0cf8"/>
<path d="M854.60,1491.90 L852.69,1497.77 L846.52,1497.77 L851.51,1501.40 L849.60,1507.28 L854.60,1503.65 L859.60,1507.28 L857.69,1501.40 L862.68,1497.77 L856.51,1497.77 Z" fill="#0000cc" stroke="#0000cc" stroke-width="2.7" stroke-linejoin="round"/><path d="M854.60,1491.90 L852.69,1497.77 L846.52,1497.77 L851.51,1501.40 L849.60,1507.28 L854.60,1503.65 L859.60,1507.28 L857.69,1501.40 L862.68,1497.77 L856.51,1497.77 Z" fill="#0c0cf8"/>
<path d="M969.40,1518.20 L967.49,1524.07 L961.32,1524.07 L966.31,1527.70 L964.40,1533.58 L969.40,1529.95 L974.40,1533.58 L972.49,1527.70 L977.48,1524.07 L971.31,1524.07 Z" fill="#0000cc" stroke="#0000cc" stroke-width="2.7" stroke-linejoin="round"/><path d="M969.40,1518.20 L967.49,1524.07 L961.32,1524.07 L966.31,1527.70 L964.40,1533.58 L969.40,1529.95 L974.40,1533.58 L972.49,1527.70 L977.48,1524.07 L971.31,1524.07 Z" fill="#0c0cf8"/>
<path d="M1071.90,1475.60 L1069.99,1481.47 L1063.82,1481.47 L1068.81,1485.10 L1066.90,1490.98 L1071.90,1487.35 L1076.90,1490.98 L1074.99,1485.10 L1079.98,1481.47 L1073.81,1481.47 Z" fill="#0000cc" stroke="#0000cc" stroke-width="2.7" stroke-linejoin="round"/><path d="M1071.90,1475.60 L1069.99,1481.47 L1063.82,1481.47 L1068.81,1485.10 L1066.90,1490.98 L1071.90,1487.35 L1076.90,1490.98 L1074.99,1485.10 L1079.98,1481.47 L1073.81,1481.47 Z" fill="#0c0cf8"/>
<circle cx="209.70" cy="1502.80" r="8.8" fill="#ff3333" stroke="#e00000" stroke-width="2.2"/>
<circle cx="410.10" cy="1550.80" r="8.8" fill="#ff3333" stroke="#e00000" stroke-width="2.2"/>
<circle cx="424.00" cy="1470.70" r="8.8" fill="#ff3333" stroke="#e00000" stroke-width="2.2"/>
<circle cx="466.10" cy="1620.50" r="8.8" fill="#ff3333" stroke="#e00000" stroke-width="2.2"/>
<circle cx="613.50" cy="1404.20" r="8.8" fill="#ff3333" stroke="#e00000" stroke-width="2.2"/>
<circle cx="1084.20" cy="1040.50" r="8.8" fill="#ff3333" stroke="#e00000" stroke-width="2.2"/>
<line x1="165.5" y1="1514.20" x2="1128.2" y2="1514.20" stroke="#000" stroke-width="4.1" stroke-dasharray="15.95,6.9"/>
<rect x="165.5" y="1011.5" width="962.70" height="637.70" fill="none" stroke="#c2c2c2" stroke-width="3.2"/>
<text x="0" y="0" transform="translate(182.60,1699.30) scale(1,1.045)" font-size="31.5" text-anchor="middle" font-family="'Liberation Sans', Arial, sans-serif" stroke="none" stroke-width="0" >0.6</text>
<text x="0" y="0" transform="translate(302.17,1699.30) scale(1,1.045)" font-size="31.5" text-anchor="middle" font-family="'Liberation Sans', Arial, sans-serif" stroke="none" stroke-width="0" >0.8</text>
<text x="0" y="0" transform="translate(421.74,1699.30) scale(1,1.045)" font-size="31.5" text-anchor="middle" font-family="'Liberation Sans', Arial, sans-serif" stroke="none" stroke-width="0" >1.0</text>
<text x="0" y="0" transform="translate(541.31,1699.30) scale(1,1.045)" font-size="31.5" text-anchor="middle" font-family="'Liberation Sans', Arial, sans-serif" stroke="none" stroke-width="0" >1.2</text>
<text x="0" y="0" transform="translate(660.88,1699.30) scale(1,1.045)" font-size="31.5" text-anchor="middle" font-family="'Liberation Sans', Arial, sans-serif" stroke="none" stroke-width="0" >1.4</text>
<text x="0" y="0" transform="translate(780.45,1699.30) scale(1,1.045)" font-size="31.5" text-anchor="middle" font-family="'Liberation Sans', Arial, sans-serif" stroke="none" stroke-width="0" >1.6</text>
<text x="0" y="0" transform="translate(900.02,1699.30) scale(1,1.045)" font-size="31.5" text-anchor="middle" font-family="'Liberation Sans', Arial, sans-serif" stroke="none" stroke-width="0" >1.8</text>
<text x="0" y="0" transform="translate(1019.59,1699.30) scale(1,1.045)" font-size="31.5" text-anchor="middle" font-family="'Liberation Sans', Arial, sans-serif" stroke="none" stroke-width="0" >2.0</text>
<text x="0" y="0" transform="translate(138.50,1599.05) scale(1,1.045)" font-size="31.5" text-anchor="end" font-family="'Liberation Sans', Arial, sans-serif" stroke="none" stroke-width="0" >−0.05</text>
<text x="0" y="0" transform="translate(138.50,1525.40) scale(1,1.045)" font-size="31.5" text-anchor="end" font-family="'Liberation Sans', Arial, sans-serif" stroke="none" stroke-width="0" >0.00</text>
<text x="0" y="0" transform="translate(138.50,1451.75) scale(1,1.045)" font-size="31.5" text-anchor="end" font-family="'Liberation Sans', Arial, sans-serif" stroke="none" stroke-width="0" >0.05</text>
<text x="0" y="0" transform="translate(138.50,1378.10) scale(1,1.045)" font-size="31.5" text-anchor="end" font-family="'Liberation Sans', Arial, sans-serif" stroke="none" stroke-width="0" >0.10</text>
<text x="0" y="0" transform="translate(138.50,1304.45) scale(1,1.045)" font-size="31.5" text-anchor="end" font-family="'Liberation Sans', Arial, sans-serif" stroke="none" stroke-width="0" >0.15</text>
<text x="0" y="0" transform="translate(138.50,1230.80) scale(1,1.045)" font-size="31.5" text-anchor="end" font-family="'Liberation Sans', Arial, sans-serif" stroke="none" stroke-width="0" >0.20</text>
<text x="0" y="0" transform="translate(138.50,1157.15) scale(1,1.045)" font-size="31.5" text-anchor="end" font-family="'Liberation Sans', Arial, sans-serif" stroke="none" stroke-width="0" >0.25</text>
<text x="0" y="0" transform="translate(138.50,1083.50) scale(1,1.045)" font-size="31.5" text-anchor="end" font-family="'Liberation Sans', Arial, sans-serif" stroke="none" stroke-width="0" >0.30</text>
<text x="0" y="0" transform="translate(646.85,1741.30) scale(1,1.025)" font-size="34.4" text-anchor="middle" font-family="'Liberation Sans', Arial, sans-serif" stroke="none" stroke-width="0" >Predicted TEG, W/K</text>
<text x="0" y="0" transform="translate(42.20,1333.35) rotate(-90) scale(1,1.025)" font-size="34.4" text-anchor="middle" font-family="'Liberation Sans', Arial, sans-serif" stroke="none" stroke-width="0" >Residuals</text>
<text x="0" y="0" transform="translate(646.85,993.70) scale(1,1.025)" font-size="34.4" text-anchor="middle" font-family="'Liberation Sans', Arial, sans-serif" stroke="none" stroke-width="0" >Residuals Plot</text>
<rect x="181.2" y="1028.0" width="375.8" height="98.4" rx="5" ry="5" fill="#ffffff" fill-opacity="0.8" stroke="#cccccc" stroke-width="2.5"/>
<path d="M226.00,1046.00 L224.09,1051.87 L217.92,1051.87 L222.91,1055.50 L221.00,1061.38 L226.00,1057.75 L231.00,1061.38 L229.09,1055.50 L234.08,1051.87 L227.91,1051.87 Z" fill="#0000cc" stroke="#0000cc" stroke-width="2.7" stroke-linejoin="round"/><path d="M226.00,1046.00 L224.09,1051.87 L217.92,1051.87 L222.91,1055.50 L221.00,1061.38 L226.00,1057.75 L231.00,1061.38 L229.09,1055.50 L234.08,1051.87 L227.91,1051.87 Z" fill="#0c0cf8"/>
<circle cx="226.00" cy="1099.20" r="8.8" fill="#ff3333" stroke="#e00000" stroke-width="2.2"/>
<text x="0" y="0" transform="translate(283.00,1063.30) scale(1,1.025)" font-size="31.5" text-anchor="start" font-family="'Liberation Sans', Arial, sans-serif" stroke="none" stroke-width="0" >Training Residuals</text>
<text x="0" y="0" transform="translate(283.00,1107.80) scale(1,1.025)" font-size="31.5" text-anchor="start" font-family="'Liberation Sans', Arial, sans-serif" stroke="none" stroke-width="0" >Testing Residuals</text>
</g>
<text x="0" y="0" transform="translate(572.50,1844.10) scale(1,1.0)" font-size="48.5" text-anchor="middle" font-family="'Liberation Serif', 'Times New Roman', serif" stroke="#000000" stroke-width="0.45" letter-spacing="1.1">(b)</text>
</svg>
</body></html>
